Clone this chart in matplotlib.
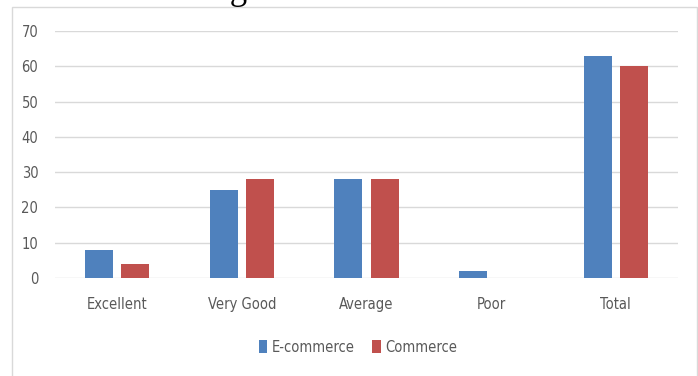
import matplotlib.pyplot as plt
import numpy as np
from matplotlib.patches import Rectangle

categories = ['Excellent', 'Very Good', 'Average', 'Poor', 'Total']
ecommerce = [8, 25, 28, 2, 63]
commerce = [4, 28, 28, 0, 60]
yticks = [0, 10, 20, 30, 40, 50, 60, 70]

plt.rcParams['font.family'] = ['DejaVu Sans']
plt.rcParams['font.stretch'] = 'condensed'

fig = plt.figure(figsize=(6.98, 3.76), dpi=100)
ax = fig.add_axes([0.0788, 0.2606, 0.8925, 0.657])

x = np.arange(len(categories))
w = 0.225
off = 0.145
ax.bar(x - off, ecommerce, w, color='#4F81BD', label='E-commerce', zorder=3)
ax.bar(x + off, commerce, w, color='#C0504D', label='Commerce', zorder=3)

ax.set_xlim(-0.5, len(categories) - 0.5)
ax.set_ylim(0, 70)
ax.set_yticks(yticks)
ax.set_xticks(x)
ax.set_xticklabels(categories)
ax.tick_params(length=0, labelsize=10.5, colors='#595959')
ax.tick_params(axis='x', pad=14)
ax.tick_params(axis='y', pad=12)
ax.grid(axis='y', color='#D9D9D9', linewidth=1, zorder=0)
for s in ax.spines.values():
    s.set_visible(False)

leg = fig.legend(loc='center', bbox_to_anchor=(0.513, 0.077), ncol=2, frameon=False,
                 fontsize=10.5, handlelength=0.6, handleheight=1.0, handletextpad=0.3,
                 columnspacing=1.2)
for t in leg.get_texts():
    t.set_color('#595959')

# outer chart border
fig.add_artist(Rectangle((12 / 698, -0.05), 685 / 698, 1.05 - 7 / 376,
                         transform=fig.transFigure, fill=False,
                         edgecolor='#D9D9D9', linewidth=1))

# heading above the chart, mostly outside the canvas
fig.text(412 / 698, 1 + 1 / 376, 'Chart of Overall Rating of Services', family='Liberation Serif',
         fontsize=25, va='baseline', ha='right')

fig.savefig('out.png', dpi=100)
